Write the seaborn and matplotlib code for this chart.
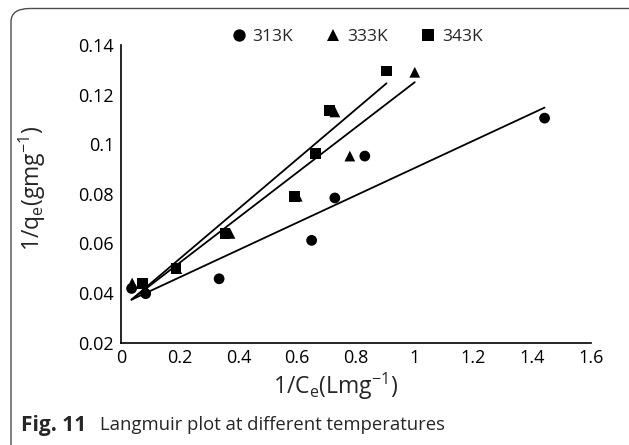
import numpy as np
import pandas as pd
import matplotlib
matplotlib.use("Agg")
import matplotlib.pyplot as plt
import seaborn as sns
from matplotlib.patches import FancyBboxPatch

# Data
x_313 = [0.036, 0.084, 0.334, 0.649, 0.728, 0.830, 1.442]
y_313 = [0.0418, 0.0397, 0.0457, 0.0612, 0.0783, 0.0952, 0.1105]
x_333 = [0.038, 0.190, 0.371, 0.600, 0.728, 0.779, 1.000]
y_333 = [0.0440, 0.0498, 0.0640, 0.0790, 0.1130, 0.0952, 0.1290]
x_343 = [0.072, 0.187, 0.354, 0.590, 0.663, 0.709, 0.904]
y_343 = [0.0437, 0.0498, 0.0640, 0.0790, 0.0962, 0.1135, 0.1295]
series = ["313K", "333K", "343K"]
# linear trendlines
trend_slope = [0.0551, 0.0910, 0.1005]
trend_intercept = [0.0353, 0.0340, 0.0337]
trend_xstart = [0.036, 0.036, 0.036]
trend_xend = [1.442, 1.000, 0.904]
xticks = [0, 0.2, 0.4, 0.6, 0.8, 1, 1.2, 1.4, 1.6]
yticks = [0.02, 0.04, 0.06, 0.08, 0.1, 0.12, 0.14]

sns.set_theme(style="white")
plt.rcParams['font.family'] = ['Open Sans', 'DejaVu Sans']
plt.rcParams['mathtext.default'] = 'regular'

df = pd.concat([
    pd.DataFrame({"x": x_313, "y": y_313, "T": "313K"}),
    pd.DataFrame({"x": x_333, "y": y_333, "T": "333K"}),
    pd.DataFrame({"x": x_343, "y": y_343, "T": "343K"}),
])

fig = plt.figure(figsize=(6.29, 4.45), dpi=100)
ax = fig.add_axes([121/629, 1-342.5/445, (591-121)/629, (342.5-45)/445])

markers = {"313K": "o", "333K": "^", "343K": "s"}
sns.scatterplot(data=df, x="x", y="y", style="T", markers=markers,
                hue="T", palette={s: "black" for s in series},
                s=60, edgecolor="black", linewidth=0, ax=ax, legend=True)

for m, b, x0, x1 in zip(trend_slope, trend_intercept, trend_xstart, trend_xend):
    xx = np.array([x0, x1])
    ax.plot(xx, m*xx + b, color="black", lw=1.3, zorder=1)

ax.set_xlim(0, 1.6)
ax.set_ylim(0.02, 0.14)
ax.set_xticks(xticks)
ax.set_xticklabels([f"{v:g}" for v in xticks])
ax.set_yticks(yticks)
ax.set_yticklabels([f"{v:g}" for v in yticks])
ax.tick_params(length=0, labelsize=13, colors="black", pad=5)
for s in ["top", "right"]:
    ax.spines[s].set_visible(False)
for s in ["left", "bottom"]:
    ax.spines[s].set_color("black")
    ax.spines[s].set_linewidth(1.2)
ax.set_xlabel("")
ax.set_ylabel("")
fig.text(336/629, 1-386/445, r"1/C$_{e}$(Lmg$^{-1}$)", fontsize=16.5,
         ha="center", va="center")
fig.text(32/629, 1-188/445, r"1/q$_{e}$(gmg$^{-1}$)", fontsize=16.5,
         ha="center", va="center", rotation=90)

ax.legend(loc="center", bbox_to_anchor=(352/629, 1-37/445),
          bbox_transform=fig.transFigure, ncol=3, frameon=False,
          fontsize=12.5, handletextpad=-0.2, columnspacing=1.3,
          markerscale=1.15)

# outer frame (top + left with rounded corner)
frame = FancyBboxPatch((11/629, -0.2), 1.2, 1-8.5/445 + 0.2,
                       boxstyle="round,pad=0,rounding_size=0.03",
                       transform=fig.transFigure, fill=False,
                       edgecolor="#4d4d4d", linewidth=1.0, clip_on=False)
fig.patches.append(frame)

fig.text(21/629, 1-425/445, "Fig. 11", fontsize=15, fontweight="bold", va="center")
fig.text(100/629, 1-425/445, "Langmuir plot at different temperatures",
         fontsize=13.3, va="center")

fig.savefig("out.png", dpi=100)
